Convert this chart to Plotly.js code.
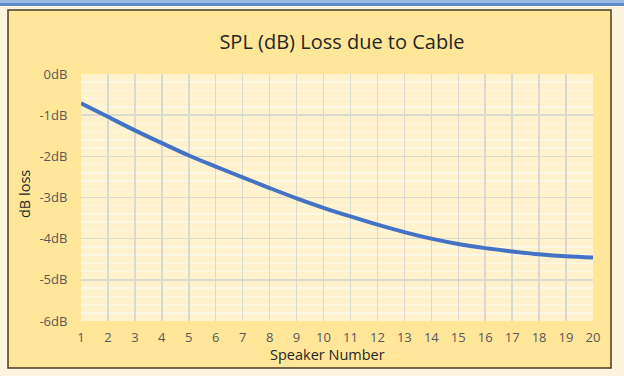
<!DOCTYPE html>
<html>
<head>
<meta charset="utf-8">
<script src="https://cdn.plot.ly/plotly-3.0.1.min.js"></script>
<style>html,body{margin:0;padding:0;background:#fdf4de;}#chart{width:624px;height:376px;}</style>
</head>
<body>
<div id="chart"></div>
<script>
const speakers = [1,2,3,4,5,6,7,8,9,10,11,12,13,14,15,16,17,18,19,20];
const dbLoss = [-0.71,-1.04,-1.37,-1.68,-1.98,-2.25,-2.51,-2.77,-3.02,-3.25,-3.46,-3.66,-3.84,-4.00,-4.13,-4.23,-4.31,-4.38,-4.43,-4.46];
const yTickVals = [0,-1,-2,-3,-4,-5,-6];
const yTickText = ['0dB','-1dB','-2dB','-3dB','-4dB','-5dB','-6dB'];
const chartTitle = 'SPL (dB) Loss due to Cable';
const xTitle = 'Speaker Number';
const yTitle = 'dB loss';

const font = 'Open Sans, Lato, sans-serif';
const trace = {
  x: speakers, y: dbLoss, type: 'scatter', mode: 'lines',
  line: {color: '#4472c4', width: 4, shape: 'spline'},
  hoverinfo: 'skip'
};
const layout = {
  width: 624, height: 376,
  margin: {l: 81, r: 31, t: 74, b: 55},
  paper_bgcolor: '#ffe699',
  plot_bgcolor: '#fff2cc',
  showlegend: false,
  title: {text: chartTitle, x: 318/624, xref: 'paper', xanchor: 'center', y: 1 - 42/376, yref: 'container', yanchor: 'middle',
          font: {family: font, size: 20, color: '#262626'}},
  xaxis: {
    range: [1, 20], tickvals: speakers, ticks: 'outside', ticklen: 4, tickcolor: 'rgba(0,0,0,0)',
    showgrid: true, gridcolor: '#dcd9d0', gridwidth: 1.5, zeroline: false, showline: false,
    tickfont: {family: font, size: 13, color: '#595959'}
  },
  yaxis: {
    range: [-6, 0], tickvals: yTickVals, ticktext: yTickText, ticks: 'outside', ticklen: 10, tickcolor: 'rgba(0,0,0,0)',
    showgrid: true, gridcolor: '#dcd9d0', gridwidth: 1.5, zeroline: false, showline: false,
    minor: {dtick: 0.2, showgrid: true, gridcolor: '#fdf7e6', gridwidth: 1.5, ticks: ''},
    tickfont: {family: font, size: 13, color: '#595959'}
  },
  annotations: [
    {text: xTitle, xref: 'paper', yref: 'paper', x: (327-81)/512, y: -(354-321)/247, xanchor: 'center', yanchor: 'middle', showarrow: false,
     font: {family: font, size: 14.5, color: '#262626'}},
    {text: yTitle, xref: 'paper', yref: 'paper', x: (24-81)/512, y: (321-194)/247, xanchor: 'center', yanchor: 'middle', showarrow: false, textangle: -90,
     font: {family: font, size: 14.5, color: '#262626'}}
  ],
  shapes: [
    {type: 'rect', xref: 'paper', yref: 'paper', x0: -81/512, x1: -73/512, y0: -1, y1: 2, fillcolor: '#fdf4de', line: {width: 0}, layer: 'below'},
    {type: 'rect', xref: 'paper', yref: 'paper', x0: (611-81)/512, x1: 2, y0: -1, y1: 2, fillcolor: '#fdf4de', line: {width: 0}, layer: 'below'},
    {type: 'rect', xref: 'paper', yref: 'paper', x0: -1, x1: 2, y0: -1, y1: -(368-321)/247, fillcolor: '#fdf4de', line: {width: 0}, layer: 'below'},
    {type: 'rect', xref: 'paper', yref: 'paper', x0: -1, x1: 2, y0: 1 + (74-10)/247, y1: 2, fillcolor: '#fdf4de', line: {width: 0}, layer: 'below'},
    {type: 'rect', xref: 'paper', yref: 'paper', x0: -1, x1: 2, y0: 1 + (74-6)/247, y1: 2, fillcolor: '#5b8ccc', line: {width: 0}, layer: 'below'},
    {type: 'rect', xref: 'paper', yref: 'paper', x0: -1, x1: 2, y0: 1 + (74-3)/247, y1: 2, fillcolor: '#9bbbe3', line: {width: 0}, layer: 'below'},
    {type: 'rect', xref: 'paper', yref: 'paper', x0: -73/512, x1: (611-81)/512, y0: -(368-321)/247, y1: 1 + (74-10)/247, fillcolor: 'rgba(0,0,0,0)', line: {width: 1.5, color: '#4a3b22'}, layer: 'above'}
  ]
};
Plotly.newPlot('chart', [trace], layout, {displayModeBar: false, staticPlot: true});
</script>
</body>
</html>
